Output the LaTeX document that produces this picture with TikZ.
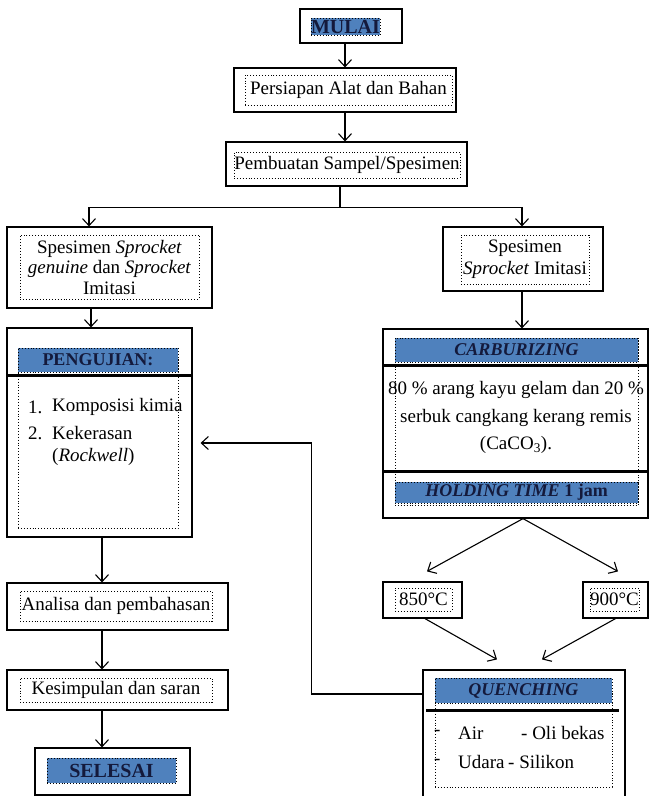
\documentclass[tikz,border=0pt]{standalone}
\usepackage{fontspec}
\setmainfont{Liberation Serif}
\usetikzlibrary{arrows.meta}
\definecolor{hdrblue}{RGB}{79,129,189}
\definecolor{hdrnavy}{RGB}{20,26,60}
\newcommand{\bodysize}{\fontsize{19}{22}\selectfont}
\newcommand{\hdrsize}{\fontsize{18}{21}\selectfont}
\tikzset{
  frame/.style={draw, line width=1.2pt, fill=white, inner sep=0pt},
  txtbox/.style={draw, dotted, line width=0.9pt, inner sep=0pt, align=center, font=\bodysize},
  hdrbox/.style={txtbox, fill=hdrblue, text=hdrnavy, font=\hdrsize\bfseries},
  hdrital/.style={hdrbox, font=\hdrsize\bfseries\itshape},
  item/.style={anchor=west, inner sep=0pt, font=\bodysize},
  conn/.style={line width=1.1pt},
  arr/.style={conn, -{Straight Barb[length=7pt,width=13pt]}},
  sep/.style={line width=2.6pt},
}
\begin{document}
\begin{tikzpicture}[x=1pt,y=-1pt]
\useasboundingbox (0,0) rectangle (650,796);
\clip (0,0) rectangle (650,796);

% start and preparation
\node[frame, minimum width=102, minimum height=34] (mulai) at (351,26) {};
\node[hdrbox, minimum width=69, minimum height=17, font=\fontsize{20}{22}\selectfont\bfseries] (mulaitxt) at (345.5,26.5) {MULAI};
\node[frame, minimum width=222, minimum height=44] (alat) at (345,90) {};
\node[txtbox, minimum width=207, minimum height=30] (alattxt) at (348.5,90) {Persiapan Alat dan Bahan};
\node[frame, minimum width=241, minimum height=44] (buat) at (346.5,164) {};
\node[txtbox, minimum width=226, minimum height=26] (buattxt) at (347,165) {Pembuatan Sampel/Spesimen};

% specimens
\node[frame, minimum width=205, minimum height=81] (spesA) at (109.5,267.5) {};
\node[txtbox, minimum width=179, minimum height=64, font=\fontsize{19}{20.5}\selectfont] (spesAtxt) at (109.5,267)
  {Spesimen \textit{Sprocket}\\ \textit{genuine} dan \textit{Sprocket}\\ Imitasi};
\node[frame, minimum width=160, minimum height=64] (spesB) at (523,259) {};
\node[txtbox, minimum width=128, minimum height=49] (spesBtxt) at (525,259.5) {Spesimen\\ \textit{Sprocket} Imitasi};

% testing
\node[frame, minimum width=185, minimum height=209] (uji) at (99.5,432.5) {};
\node[txtbox, minimum width=160, minimum height=180] (ujibox) at (98,438) {};
\node[hdrbox, minimum width=160, minimum height=24] (ujihd) at (98,360) {PENGUJIAN:};
\draw[sep] ([shift={(0,3)}]uji.west |- ujihd.south) -- ([shift={(0,3)}]uji.east |- ujihd.south);
\node[item] (uji1n) at (28,407) {1.};
\node[item] (uji1) at (52,407) {Komposisi kimia};
\node[item] (uji2n) at (28,433) {2.};
\node[item] (uji2) at (52,433) {Kekerasan};
\node[item] (uji3) at (52,457) {(\textit{Rockwell})};

% carburizing
\node[frame, minimum width=265, minimum height=189] (carb) at (515.5,423.5) {};
\node[txtbox, minimum width=243, minimum height=167] (carbbox) at (516.5,421.5) {};
\node[hdrital, minimum width=243, minimum height=24] (carbhd) at (516.5,350) {CARBURIZING};
\draw[sep] ([shift={(0,3)}]carb.west |- carbhd.south) -- ([shift={(0,3)}]carb.east |- carbhd.south);
\node[align=center, inner sep=0pt, font=\fontsize{19}{27.5}\selectfont] (carbtxt) at (516,417.5)
  {80 \% arang kayu gelam dan 20 \%\\ serbuk cangkang kerang remis\\ (CaCO\textsubscript{3}).};
\node[hdrbox, minimum width=243, minimum height=21] (hold) at (516.5,492.5) {\textit{HOLDING TIME} 1 jam};
\draw[sep] ([shift={(0,-10)}]carb.west |- hold.north) -- ([shift={(0,-10)}]carb.east |- hold.north);

% temperatures
\node[frame, minimum width=79, minimum height=36] (t850) at (422.5,600) {};
\node[txtbox, minimum width=57, minimum height=23] (t850txt) at (423.5,599.5) {850°C};
\node[frame, minimum width=65, minimum height=36] (t900) at (615.5,600) {};
\node[txtbox, minimum width=49, minimum height=23] (t900txt) at (614.5,599.5) {900°C};

% quenching
\node[frame, minimum width=202, minimum height=130] (quench) at (524,735) {};
\node[txtbox, minimum width=177, minimum height=109] (quenchbox) at (523.5,732.5) {};
\node[hdrital, minimum width=177, minimum height=25] (quenchhd) at (523.5,690.5) {QUENCHING};
\draw[sep] ([shift={(4,7)}]quench.west |- quenchhd.south) -- ([shift={(-7,7)}]quench.east |- quenchhd.south);
\node[item] (qd1) at (434,733) {-};
\node[item] (qair) at (458,733) {Air};
\node[item] (qoli) at (521,733) {- Oli bekas};
\node[item] (qd2) at (434,762) {-};
\node[item] (qudara) at (458,762) {Udara};
\node[item] (qsili) at (508,762) {- Silikon};

% results and end
\node[frame, minimum width=221, minimum height=47] (analisa) at (117.5,606.5) {};
\node[txtbox, minimum width=192, minimum height=30] (analisatxt) at (116,606) {Analisa dan pembahasan};
\node[frame, minimum width=221, minimum height=40] (simpul) at (117.5,690) {};
\node[txtbox, minimum width=192, minimum height=24] (simpultxt) at (116,690) {Kesimpulan dan saran};
\node[frame, minimum width=155, minimum height=47] (selesai) at (112.5,771.5) {};
\node[hdrbox, minimum width=129, minimum height=25, font=\fontsize{20}{22}\selectfont\bfseries] (selesaitxt) at (111.5,770.5) {SELESAI};

% connectors
\draw[arr] (mulai.south -| alat.north) -- (alat.north);
\draw[arr] (alat.south) -- (alat.south |- buat.north);
\draw[conn] ([shift={(-6.5,0)}]buat.south) -- ++(0,21) coordinate (split);
\draw[arr] (split) -| ([shift={(-20.5,0)}]spesA.north);
\draw[arr] (split) -| ([shift={(-1,0)}]spesB.north);
\draw[arr] ([shift={(-18.5,0)}]spesA.south) -- ([shift={(-18.5,0)}]spesA.south |- uji.north);
\draw[arr] ([shift={(-1,0)}]spesB.south) -- ([shift={(-1,0)}]spesB.south |- carb.north);
\coordinate (carbsplit) at ([shift={(7.5,0)}]carb.south);
\draw[arr] (carbsplit) -- ([shift={(4.5,-10)}]t850.north);
\draw[arr] (carbsplit) -- ([shift={(2.5,-10)}]t900.north);
\draw[arr] ([shift={(2.5,0)}]t850.south) -- ([shift={(-27,-10)}]quench.north);
\draw[arr] (t900.south) -- ([shift={(18,-10)}]quench.north);
\draw[arr] ([shift={(0,-41)}]quench.west) -- ++(-111,0) |- ([shift={(8,10.5)}]uji.east);
\draw[arr] ([shift={(2.5,0)}]uji.south) -- ([shift={(2.5,0)}]uji.south |- analisa.north);
\draw[arr] ([shift={(-15.5,0)}]analisa.south) -- ([shift={(-15.5,0)}]analisa.south |- simpul.north);
\draw[arr] ([shift={(-15.5,0)}]simpul.south) -- ([shift={(-15.5,0)}]simpul.south |- selesai.north);
\end{tikzpicture}
\end{document}
